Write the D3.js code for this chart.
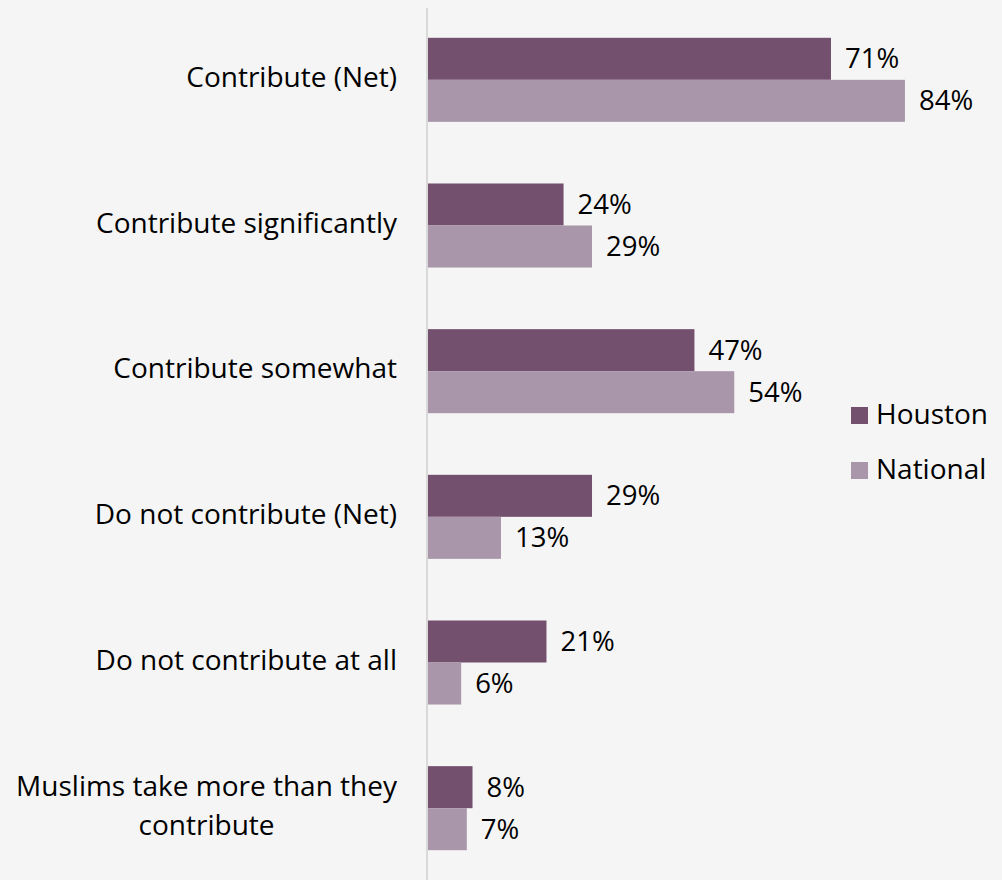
<!DOCTYPE html>
<html><head><meta charset="utf-8">
<script src="https://cdn.jsdelivr.net/npm/d3@7"></script>
<style>
html,body{margin:0;padding:0;background:#f5f5f5;}
svg{display:block;}
text{font-family:"Open Sans","Lato",sans-serif;fill:#000;}
</style></head>
<body>
<svg id="chart" width="1002" height="880"></svg>
<script>
const categories = [
  ["Contribute (Net)"],
  ["Contribute significantly"],
  ["Contribute somewhat"],
  ["Do not contribute (Net)"],
  ["Do not contribute at all"],
  ["Muslims take more than they", "contribute"]
];
const seriesNames = ["Houston", "National"];
const houston = [71, 24, 47, 29, 21, 8];
const national = [84, 29, 54, 13, 6, 7];
const colors = ["#74506f", "#aa96aa"];

const svg = d3.select("#chart");
const W = 1002, H = 880;
svg.append("rect").attr("width", W).attr("height", H).attr("fill", "#f5f5f5");

const x0 = 427;
const x = d3.scaleLinear().domain([0, 100]).range([x0, x0 + 569]);
const y = d3.scaleBand().domain(d3.range(categories.length)).range([7, 881]).paddingInner(0.423).paddingOuter(0.2115);
const ySub = d3.scaleBand().domain(seriesNames).range([0, y.bandwidth()]);

const data = categories.map((c, i) => ({i, label: c, vals: [houston[i], national[i]]}));

// axis line
svg.append("line").attr("x1", x0).attr("x2", x0).attr("y1", 8).attr("y2", 880)
  .attr("stroke", "#d9d9d9").attr("stroke-width", 2);

const g = svg.selectAll("g.cat").data(data).enter().append("g")
  .attr("transform", d => `translate(0,${y(d.i)})`);

g.selectAll("rect").data(d => d.vals.map((v, k) => ({v, k}))).enter().append("rect")
  .attr("x", x0 + 1)
  .attr("y", d => ySub(seriesNames[d.k]))
  .attr("width", d => x(d.v) - x0 - 1)
  .attr("height", ySub.bandwidth())
  .attr("fill", d => colors[d.k]);

g.selectAll("text.val").data(d => d.vals.map((v, k) => ({v, k}))).enter().append("text")
  .attr("class", "val")
  .attr("x", d => x(d.v) + 14)
  .attr("y", d => ySub(seriesNames[d.k]) + ySub.bandwidth() / 2 + 2)
  .attr("dominant-baseline", "middle")
  .attr("font-size", 27.5)
  .text(d => d.v + "%");

// category labels
const labelRight = 397;
data.forEach(d => {
  const cy = y(d.i) + y.bandwidth() / 2;
  const lh = 39;
  const n = d.label.length;
  const t = svg.append("text").attr("font-size", 28).attr("dominant-baseline", "middle");
  d.label.forEach((line, j) => {
    t.append("tspan").attr("y", cy + (j - (n - 1) / 2) * lh).text(line);
  });
  if (n === 1) {
    t.attr("text-anchor", "end").selectAll("tspan").attr("x", labelRight);
  } else {
    let maxW = 0;
    t.selectAll("tspan").each(function(){ maxW = Math.max(maxW, this.getComputedTextLength()); });
    t.attr("text-anchor", "middle").selectAll("tspan").attr("x", labelRight - maxW / 2);
  }
});

// legend
const legend = svg.append("g").attr("transform", "translate(851,407)");
seriesNames.forEach((s, k) => {
  const lg = legend.append("g").attr("transform", `translate(0,${k * 55})`);
  lg.append("rect").attr("width", 17).attr("height", 17).attr("fill", colors[k]);
  lg.append("text").attr("x", 25).attr("y", 10).attr("dominant-baseline", "middle")
    .attr("font-size", 28).text(s);
});
</script>
</body></html>
